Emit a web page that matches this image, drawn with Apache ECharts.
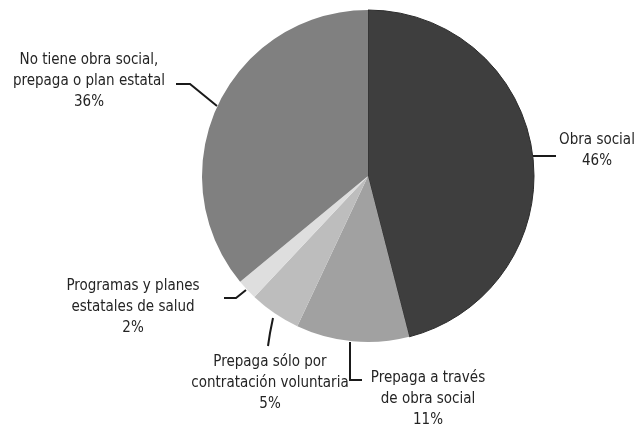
<!DOCTYPE html>
<html>
<head>
<meta charset="utf-8">
<script src="https://cdn.jsdelivr.net/npm/echarts@6/dist/echarts.min.js"></script>
<style>
  html, body { margin: 0; padding: 0; background: #fff; }
  #chart { width: 636px; height: 429px; }
</style>
</head>
<body>
<div id="chart"></div>
<script>
// categories and values (percent), clockwise from 12 o'clock
const categories = [
  'Obra social',
  'Prepaga a través\nde obra social',
  'Prepaga sólo por\ncontratación voluntaria',
  'Programas y planes\nestatales de salud',
  'No tiene obra social,\nprepaga o plan estatal'
];
const values = [46, 11, 5, 2, 36];
const colors = ['#3e3e3e', '#a1a1a1', '#bdbdbd', '#dedede', '#808080'];

// where each label sits and how its leader line runs
const labelSpots = [
  { x: 597, y: 151, line: [[533, 156], [545, 156], [556, 156]] },
  { x: 428, y: 399, line: [[350, 342], [350, 380], [362, 380]] },
  { x: 270, y: 383, line: [[273, 318], [270, 333], [268, 346]] },
  { x: 133, y: 307, line: [[246, 290], [236, 298], [224, 298]] },
  { x: 89, y: 81, line: [[217, 106], [190, 84], [176, 84]] }
];

const chart = echarts.init(document.getElementById('chart'));

const option = {
  backgroundColor: '#ffffff',
  animation: false,
  series: [
    {
      type: 'pie',
      center: [368, 176],
      radius: 166,
      startAngle: 90,
      clockwise: true,
      data: categories.map((name, i) => ({
        name: name,
        value: values[i],
        itemStyle: i === 0
          ? { color: colors[i], borderColor: '#2c2c2c', borderWidth: 1 }
          : { color: colors[i] }
      })),
      label: {
        show: true,
        formatter: '{b}\n{c}%',
        color: '#242424',
        fontSize: 15,
        lineHeight: 21,
        overflow: 'none',
        width: 200,
        fontFamily: "'Liberation Sans Narrow', 'DejaVu Sans Condensed', sans-serif",
        align: 'center'
      },
      labelLine: {
        show: true,
        lineStyle: { color: '#1a1a1a', width: 2 }
      },
      labelLayout: (params) => {
        const s = labelSpots[params.dataIndex];
        return {
          x: s.x,
          y: s.y,
          align: 'center',
          verticalAlign: 'middle',
          labelLinePoints: s.line
        };
      }
    }
  ]
};

chart.setOption(option);
</script>
</body>
</html>
